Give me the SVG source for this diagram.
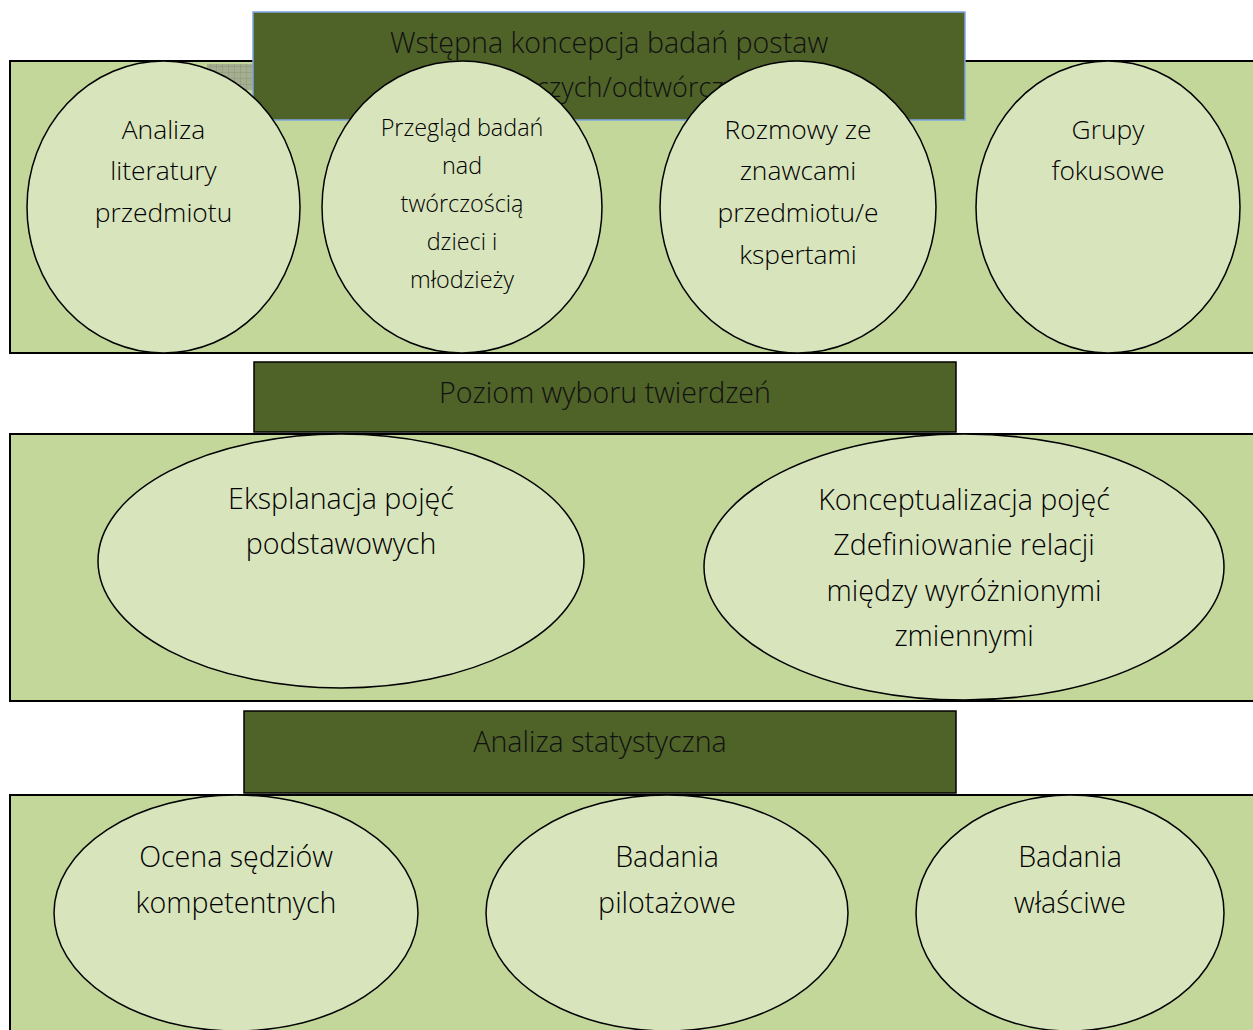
<svg xmlns="http://www.w3.org/2000/svg" width="1253" height="1030" viewBox="0 0 1253 1030">
<style>
.panel{fill:#C4D79B;stroke:#000;stroke-width:2}
.hdr{fill:#4F6228;stroke:#000;stroke-width:1.5}
.hdr1{fill:#4F6228;stroke:#7EA6E0;stroke-width:1.5}
.node{fill:#D8E4BC;stroke:#000;stroke-width:1.5}
text{font-family:"Open Sans","Noto Sans","DejaVu Sans",sans-serif;font-weight:300;fill:#000;text-anchor:middle}
.ht{font-size:28.6px;fill:#111}
.t24{font-size:26.4px}
.t21{font-size:23.4px}
.t26{font-size:28.6px}
</style>
<defs>
<pattern id="grid" width="6" height="6" patternUnits="userSpaceOnUse">
<rect width="6" height="6" fill="#A6AE92"/>
<path d="M0 0H6M0 0V6" stroke="#8C9478" stroke-width="1"/>
</pattern>
</defs>
<rect width="1253" height="1030" fill="#fff"/>
<g id="connectors"/>
<g id="panel1">
<rect class="panel" x="10" y="61" width="1260" height="292"/>
<rect x="207" y="64" width="46" height="26" fill="url(#grid)"/>
</g>
<g id="header1">
<rect class="hdr1" x="253" y="12" width="712" height="108"/>
<text class="ht" x="609" y="53">Wstępna koncepcja badań postaw</text>
<text class="ht" x="623" y="97" style="font-size:27px">twórczych/odtwórczych</text>
</g>
<g id="node-analiza">
<ellipse class="node" cx="163.5" cy="207" rx="136.5" ry="146"/>
<text class="t24" x="163.5" y="139">Analiza</text>
<text class="t24" x="163.5" y="180">literatury</text>
<text class="t24" x="163.5" y="222">przedmiotu</text>
</g>
<g id="node-przeglad">
<ellipse class="node" cx="462" cy="207" rx="140" ry="146"/>
<text class="t21" x="462" y="136">Przegląd badań</text>
<text class="t21" x="462" y="174">nad</text>
<text class="t21" x="462" y="212">twórczością</text>
<text class="t21" x="462" y="250">dzieci i</text>
<text class="t21" x="462" y="288">młodzieży</text>
</g>
<g id="node-rozmowy">
<ellipse class="node" cx="798" cy="207" rx="138" ry="146"/>
<text class="t24" x="798" y="139">Rozmowy ze</text>
<text class="t24" x="798" y="180">znawcami</text>
<text class="t24" x="798" y="222">przedmiotu/e</text>
<text class="t24" x="798" y="264">kspertami</text>
</g>
<g id="node-grupy">
<ellipse class="node" cx="1108" cy="207" rx="132" ry="146"/>
<text class="t24" x="1108" y="139">Grupy</text>
<text class="t24" x="1108" y="180">fokusowe</text>
</g>
<g id="header2">
<rect class="hdr" x="254" y="362" width="702" height="70"/>
<text class="ht" x="605" y="403">Poziom wyboru twierdzeń</text>
</g>
<g id="panel2">
<rect class="panel" x="10" y="434" width="1260" height="267"/>
</g>
<g id="node-eksplanacja">
<ellipse class="node" cx="341" cy="561" rx="243" ry="127"/>
<text class="t26" x="341" y="509">Eksplanacja pojęć</text>
<text class="t26" x="341" y="554">podstawowych</text>
</g>
<g id="node-konceptualizacja">
<ellipse class="node" cx="964" cy="567" rx="260" ry="133"/>
<text class="t26" x="964" y="510">Konceptualizacja pojęć</text>
<text class="t26" x="964" y="555">Zdefiniowanie relacji</text>
<text class="t26" x="964" y="601">między wyróżnionymi</text>
<text class="t26" x="964" y="646">zmiennymi</text>
</g>
<g id="header3">
<rect class="hdr" x="244" y="711" width="712" height="82"/>
<text class="ht" x="600" y="752">Analiza statystyczna</text>
</g>
<g id="panel3">
<rect class="panel" x="10" y="795" width="1260" height="250"/>
</g>
<g id="node-ocena">
<ellipse class="node" cx="236" cy="913" rx="182" ry="118"/>
<text class="t26" x="236" y="867">Ocena sędziów</text>
<text class="t26" x="236" y="913">kompetentnych</text>
</g>
<g id="node-pilotazowe">
<ellipse class="node" cx="667" cy="913" rx="181" ry="118"/>
<text class="t26" x="667" y="867">Badania</text>
<text class="t26" x="667" y="913">pilotażowe</text>
</g>
<g id="node-wlasciwe">
<ellipse class="node" cx="1070" cy="913" rx="154" ry="118"/>
<text class="t26" x="1070" y="867">Badania</text>
<text class="t26" x="1070" y="913">właściwe</text>
</g>
</svg>
